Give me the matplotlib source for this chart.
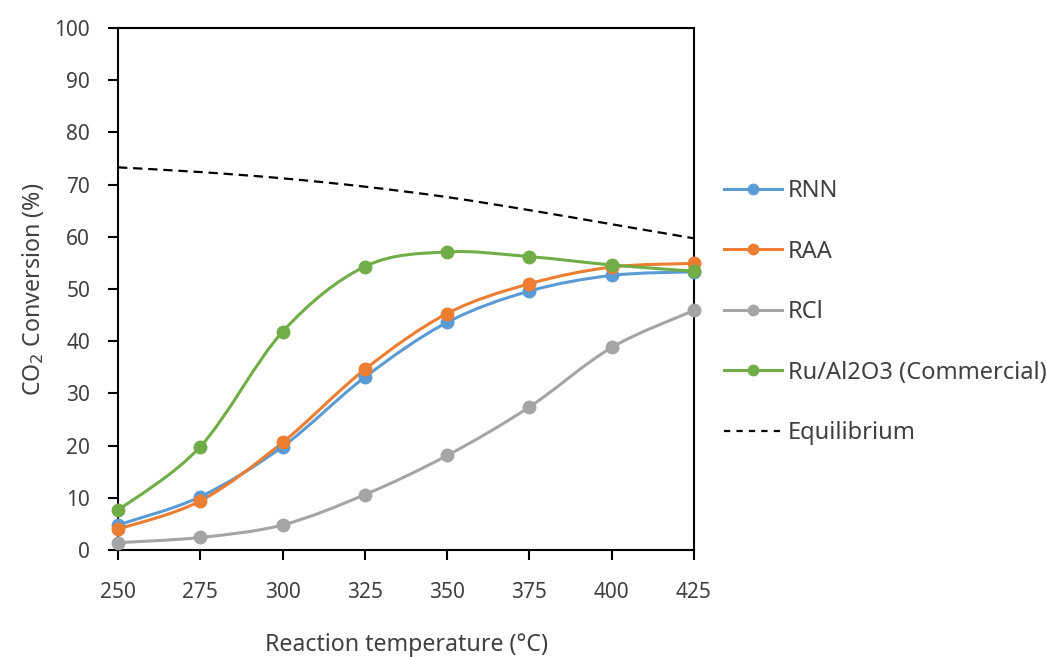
import numpy as np
import matplotlib
matplotlib.use("Agg")
import matplotlib.pyplot as plt
from matplotlib.path import Path
from matplotlib.patches import PathPatch
from matplotlib.lines import Line2D

# Data
temperature = [250, 275, 300, 325, 350, 375, 400, 425]
rnn = [4.8, 10.2, 19.8, 33.1, 43.6, 49.6, 52.6, 53.3]
raa = [4.0, 9.4, 20.6, 34.6, 45.3, 51.0, 54.2, 54.9]
rcl = [1.4, 2.4, 4.8, 10.6, 18.1, 27.4, 38.8, 45.9]
ru_al2o3 = [7.6, 19.8, 41.8, 54.3, 57.1, 56.2, 54.6, 53.4]
equilibrium = [73.3, 72.4, 71.2, 69.6, 67.6, 65.1, 62.4, 59.7]

series = [
    ("RNN", rnn, "#5B9BD5"),
    ("RAA", raa, "#ED7D31"),
    ("RCl", rcl, "#A5A5A5"),
    ("Ru/Al2O3 (Commercial)", ru_al2o3, "#70AD47"),
]

text_color = "#404040"
plt.rcParams['font.family'] = ['Noto Sans', 'DejaVu Sans']


def smooth_path(xs, ys):
    # Excel-like smoothed line: cubic Bezier through the data points
    pts = np.column_stack([xs, ys]).astype(float)
    n = len(pts)
    verts = [pts[0]]
    codes = [Path.MOVETO]
    for i in range(n - 1):
        p0 = pts[i - 1] if i > 0 else pts[i]
        p1 = pts[i]
        p2 = pts[i + 1]
        p3 = pts[i + 2] if i + 2 < n else pts[i + 1]
        verts += [p1 + (p2 - p0) / 6.0, p2 - (p3 - p1) / 6.0, p2]
        codes += [Path.CURVE4] * 3
    return Path(verts, codes)


fig = plt.figure(figsize=(10.46, 6.57), dpi=100)
ax = fig.add_axes([0.1128, 0.1629, 0.5507, 0.7945])

handles = []
for name, values, color in series:
    ax.add_patch(PathPatch(smooth_path(temperature, values), fill=False,
                           edgecolor=color, lw=2.2, clip_on=False, zorder=3,
                           capstyle='round'))
    ax.plot(temperature, values, 'o', color=color, ms=9, clip_on=False, zorder=4)
    handles.append(Line2D([], [], color=color, lw=2.2, marker='o', ms=7.5, label=name))

ax.add_patch(PathPatch(smooth_path(temperature, equilibrium), fill=False,
                       edgecolor='black', lw=1.6, linestyle=(0, (4.2, 2.6)),
                       clip_on=False, zorder=3))
handles.append(Line2D([], [], color='black', lw=1.6, linestyle=(0, (2.8, 2.8)),
                      label="Equilibrium"))

ax.set_xlim(250, 425)
ax.set_ylim(0, 100)
ax.set_xticks(temperature)
ax.set_yticks(range(0, 101, 10))

for spine in ax.spines.values():
    spine.set_color('black')
    spine.set_linewidth(1.5)

ax.tick_params(axis='x', direction='out', length=7, width=1.5, pad=16,
               labelsize=15, labelcolor=text_color)
ax.tick_params(axis='y', direction='out', length=7, width=1.5, pad=13,
               labelsize=15, labelcolor=text_color)

ax.set_xlabel("Reaction temperature (°C)", fontsize=16.7, color=text_color, labelpad=22)
ax.set_ylabel("CO$_2$ Conversion (%)", fontsize=16.7, color=text_color, labelpad=6)

leg = fig.legend(handles=handles, loc='upper left', bbox_to_anchor=(0.683, 0.742),
                 frameon=False, fontsize=17, labelspacing=1.55, handlelength=2.45,
                 handletextpad=0.25, borderaxespad=0)
for t in leg.get_texts():
    t.set_color(text_color)

fig.savefig("out.png", dpi=100)
plt.close(fig)
